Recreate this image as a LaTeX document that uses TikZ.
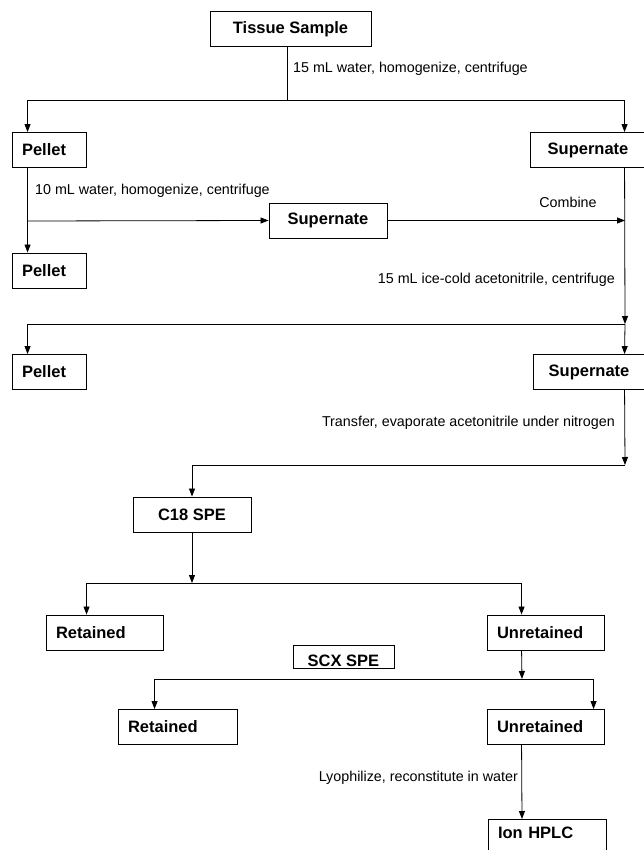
\documentclass[tikz,border=0pt]{standalone}
\usepackage{fontspec}
\setmainfont{Liberation Sans}
\usetikzlibrary{arrows.meta}

\begin{document}
\begin{tikzpicture}[x=1pt,y=-1pt,
    box/.style={draw, line width=0.9pt, font=\bfseries\fontsize{16.5}{18}\selectfont,
        minimum height=35pt, inner sep=0pt},
    lbox/.style={box, text width=#1, align=left, inner xsep=10pt},
    note/.style={font=\fontsize{14.3}{16}\selectfont, inner sep=0pt},
    flow/.style={-{Triangle[length=8pt,width=6pt]}, line width=0.8pt},
    link/.style={line width=0.8pt}]
    \useasboundingbox (0,0) rectangle (643,850);

    % boxes
    \node[box, minimum width=161pt] (tissue) at (290.5,29) {Tissue Sample};
    \node[lbox=54pt] (pellA) at (49,150) {Pellet};
    \node[box, minimum width=116pt] (supA) at (588,150) {Supernate};
    \node[box, minimum width=118pt] (supM) at (328,220.5) {Supernate};
    \node[lbox=54pt] (pellB) at (49,270.5) {Pellet};
    \node[lbox=54pt] (pellC) at (49,372) {Pellet};
    \node[box, minimum width=112pt] (supB) at (589,372) {Supernate};
    \node[box, minimum width=118pt] (c18) at (192,514.5) {C18 SPE};
    \node[lbox=97pt] (retA) at (104.5,632.5) {Retained};
    \node[lbox=97pt] (unrA) at (545.5,632.5) {Unretained};
    \node[box, minimum width=101pt, minimum height=23pt, text height=19pt, text depth=0pt] (scx) at (343.5,656.5) {SCX SPE};
    \node[lbox=99pt] (retB) at (177.5,727) {Retained};
    \node[lbox=97pt] (unrB) at (545.5,727) {Unretained};
    \node[lbox=98pt, text height=12pt, text depth=9pt, anchor=north] (ion) at (547,819) {Ion HPLC};

    % junctions
    \coordinate (j1) at (287,100);
    \coordinate (j2) at (28,221);
    \coordinate (j3) at (625,324);
    \coordinate (j4) at (625,465);
    \coordinate (j5) at (192,583);
    \coordinate (j6) at (522,679);

    % first extraction
    \draw[link] (tissue.south -| j1) -- (j1);
    \draw[flow] (j1) -| ([xshift=16pt]pellA.north west);
    \draw[flow] (j1) -| ([xshift=95pt]supA.north west);
    \draw[flow] ([xshift=16pt]pellA.south west) -- ([xshift=16pt]pellB.north west);
    \draw[flow] (j2) -- (supM.west);
    \draw[flow] (supM.east) -- (supM.east -| j3);
    \draw[flow] ([xshift=95pt]supA.south west) -- (j3);

    % acetonitrile step
    \draw[flow] (j3) -| ([xshift=16pt]pellC.north west);
    \draw[flow] (j3) -- ([xshift=92pt]supB.north west);
    \draw[flow] ([xshift=92pt]supB.south west) -- (j4);
    \draw[flow] (j4) -| (c18.north);

    % SPE steps
    \draw[flow] (c18.south) -- (j5);
    \draw[flow] (j5) -| ([xshift=41pt]retA.north west);
    \draw[flow] (j5) -| ([xshift=35pt]unrA.north west);
    \draw[flow] ([xshift=35pt]unrA.south west) -- (j6);
    \draw[flow] (j6) -| ([xshift=37pt]retB.north west);
    \draw[flow] (j6) -| ([xshift=107pt]unrB.north west);
    \draw[flow] ([xshift=35pt]unrB.south west) -- ([xshift=-25pt]ion.north);

    % step labels
    \node[note, anchor=west] at (293,69) {15 mL water, homogenize, centrifuge};
    \node[note, anchor=west] at (35,191) {10 mL water, homogenize, centrifuge};
    \node[note] at (568,202) {Combine};
    \node[note, anchor=east] at (615,280) {15 mL ice-cold acetonitrile, centrifuge};
    \node[note, anchor=east] at (615,423) {Transfer, evaporate acetonitrile under nitrogen};
    \node[note, anchor=east] at (518,778) {Lyophilize, reconstitute in water};
\end{tikzpicture}
\end{document}
